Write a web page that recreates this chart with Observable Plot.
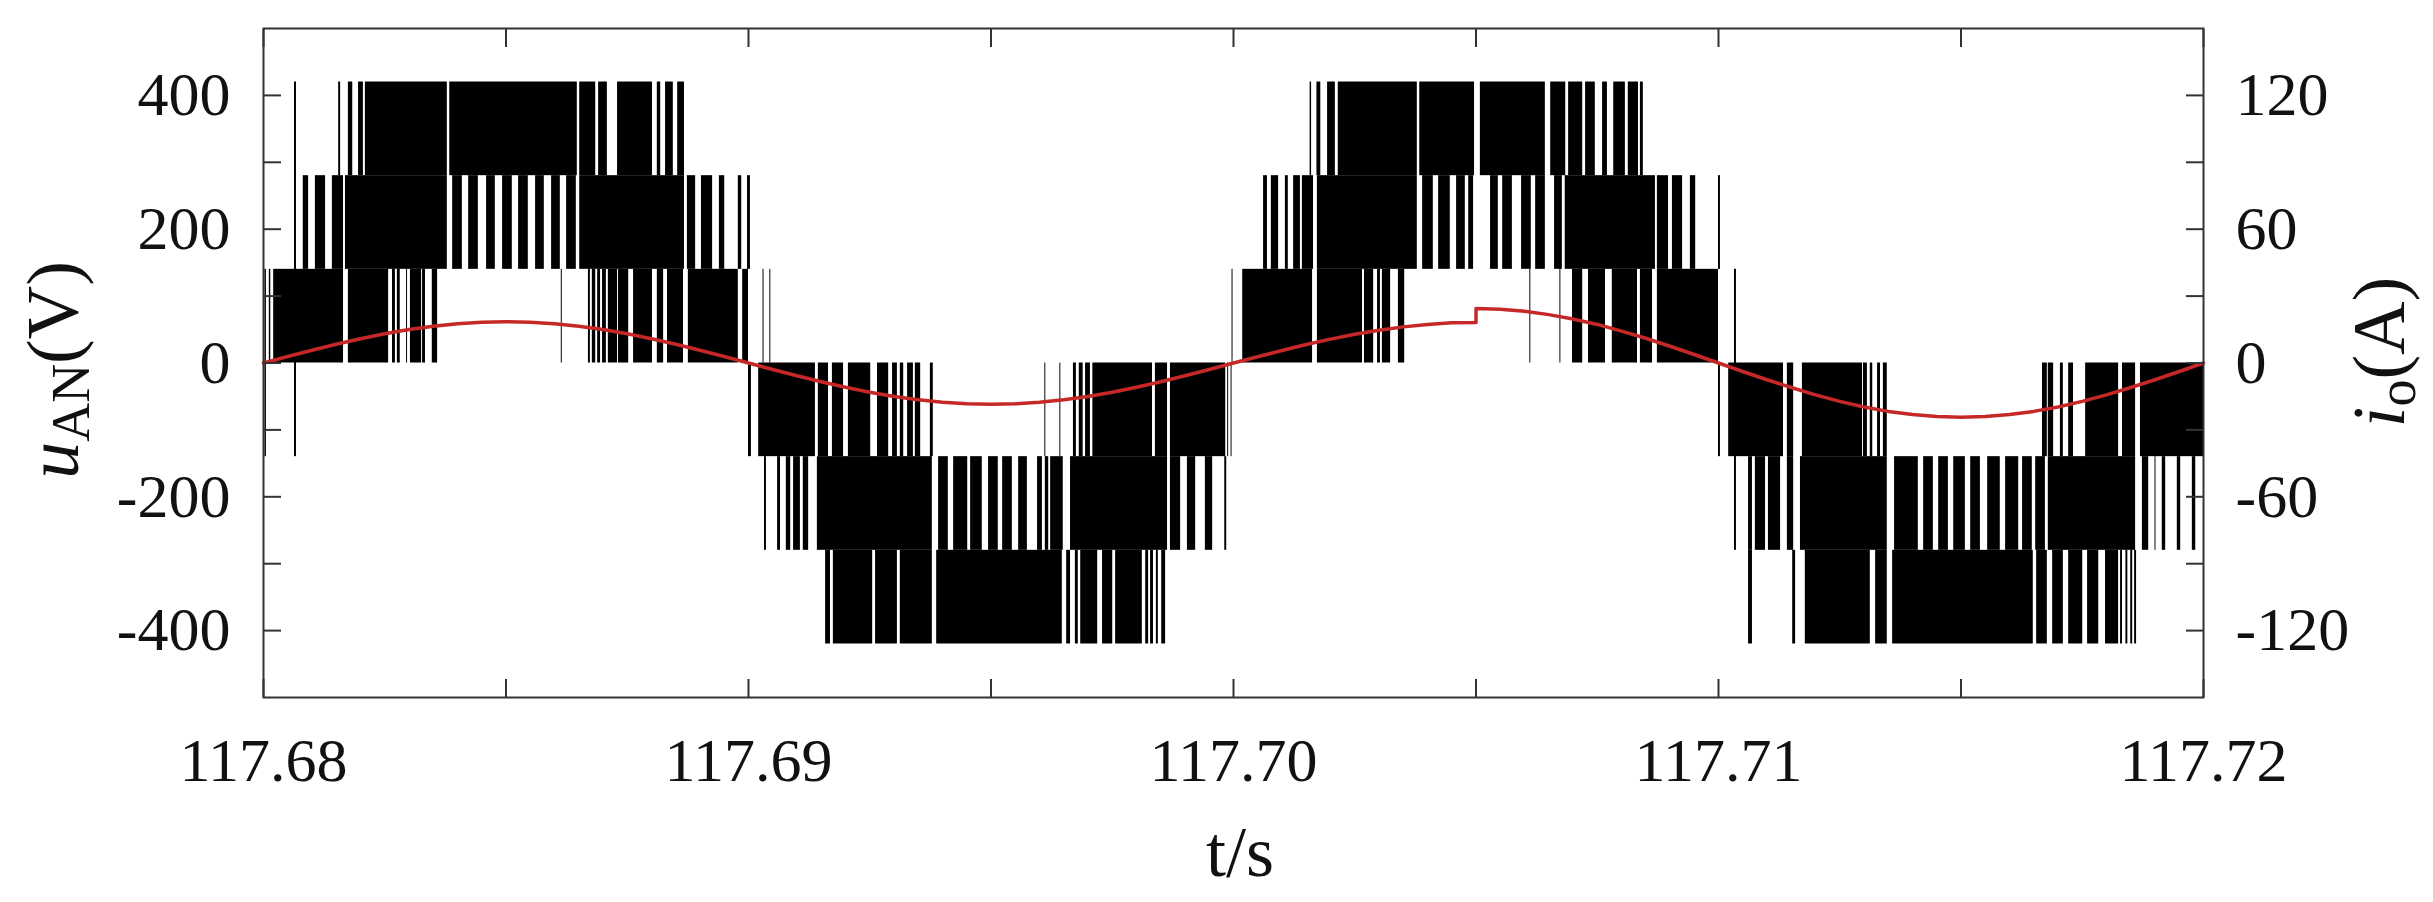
<!DOCTYPE html>
<html><head><meta charset="utf-8">
<script src="https://cdn.jsdelivr.net/npm/d3@7"></script>
<script src="https://cdn.jsdelivr.net/npm/@observablehq/plot@0.6"></script>
<style>body{margin:0;background:#fff;} svg{display:block}</style>
</head><body><div id="chart"></div>
<script>
// ---- data (times in ms after T0, voltages in V, currents in A) ----
const T0 = 117.68;
const levels = [-420, -280, -140, 0, 140, 280, 420];
const xTicksLabeled = [117.68, 117.69, 117.70, 117.71, 117.72];
const xTicksAll = [117.68, 117.685, 117.69, 117.695, 117.70, 117.705, 117.71, 117.715, 117.72];
const yTicksLabeled = [-400, -200, 0, 200, 400];
const yTicksAll = [-400, -300, -200, -100, 0, 100, 200, 300, 400];
const iTicks = [-120, -60, 0, 60, 120];

// black switching intervals of u_AN, per level band [start ms, end ms]
const band280to420 = [[1.55,1.59],[1.75,1.84],[1.96,2.06],[2.10,3.79],[3.84,6.47],[6.52,6.85],[6.91,7.09],[7.30,8.02],[8.12,8.19],[8.29,8.45],[8.54,8.68],
  [21.58,21.61],[21.72,21.80],[21.94,22.10],[22.16,23.79],[23.84,24.97],[25.09,26.43],[26.54,26.85],[26.91,27.20],[27.26,27.46],[27.61,27.71],[27.84,28.08],[28.14,28.35],[28.39,28.45]];
const band140to280 = [[0.82,0.93],[1.07,1.28],[1.42,1.65],[1.69,3.79],[3.90,4.10],[4.23,4.43],[4.60,4.78],[4.93,5.13],[5.26,5.46],[5.61,5.79],[5.94,6.12],[6.25,6.45],[6.52,8.68],[8.74,8.91],[9.03,9.26],[9.40,9.51],[9.79,9.86],[9.98,10.04],
  [20.62,20.70],[20.78,20.93],[21.07,21.13],[21.24,21.38],[21.42,21.65],[21.73,23.79],[23.90,24.12],[24.23,24.47],[24.60,24.78],[24.85,24.95],[25.30,25.46],[25.55,25.75],[25.94,26.14],[26.23,26.43],[26.62,26.78],[26.84,28.70],[28.74,28.97],[29.05,29.26],[29.42,29.53],[30.00,30.04]];
const band0to140 = [[0.03,0.06],[0.12,0.15],[0.21,1.65],[1.75,2.58],[2.66,2.72],[2.76,2.82],[2.95,2.97],[3.03,3.26],[3.28,3.34],[3.48,3.59],[6.14,6.16],[6.70,6.74],[6.78,6.85],[6.89,6.95],[6.99,7.07],[7.11,7.30],[7.32,7.53],[7.63,8.02],[8.12,8.25],[8.33,8.66],[8.76,9.79],[9.88,10.00],[10.30,10.32],[10.44,10.46],
  [19.97,19.99],[20.19,21.63],[21.73,22.66],[22.70,22.89],[22.97,23.03],[23.07,23.24],[23.40,23.53],[26.11,26.13],[26.73,26.75],[26.99,27.20],[27.32,27.67],[27.81,28.33],[28.39,28.64],[28.74,30.00]];
const bandM140to0 = [[0.03,0.06],[10.00,10.06],[10.21,11.38],[11.44,11.65],[11.73,11.96],[12.06,12.52],[12.66,12.89],[12.97,13.07],[13.13,13.20],[13.28,13.40],[13.44,13.55],[13.75,13.81],[16.11,16.13],[16.42,16.44],[16.70,16.76],[16.82,16.90],[16.95,17.05],[17.10,18.33],[18.39,18.64],[18.70,19.84],[19.88,19.90],[19.95,19.97],
  [30.00,30.04],[30.21,31.34],[31.42,31.55],[31.73,32.97],[32.99,33.07],[33.13,33.18],[33.28,33.34],[33.40,33.48],[36.68,36.78],[36.80,36.91],[37.05,37.11],[37.22,37.32],[37.57,38.25],[38.33,38.60],[38.70,40.00]];
const bandM280toM140 = [[10.33,10.37],[10.60,10.66],[10.78,10.87],[10.93,11.07],[11.13,11.24],[11.42,13.79],[13.92,14.12],[14.23,14.52],[14.58,14.82],[14.95,15.15],[15.24,15.44],[15.57,15.75],[15.96,16.06],[16.12,16.19],[16.23,16.49],[16.64,18.64],[18.70,18.91],[19.05,19.22],[19.42,19.57],[19.82,19.86],
  [30.62,30.70],[30.76,30.97],[31.03,31.28],[31.42,31.55],[31.69,33.48],[33.63,34.12],[34.23,34.43],[34.54,34.74],[34.85,35.09],[35.20,35.40],[35.55,35.81],[35.92,36.19],[36.27,36.47],[36.54,36.74],[36.80,38.60],[38.74,38.87],[39.00,39.02],[39.15,39.22],[39.46,39.53],[39.77,39.84]];
const bandM420toM280 = [[11.59,11.69],[11.75,12.56],[12.62,13.07],[13.13,13.79],[13.88,16.47],[16.56,16.64],[16.74,16.80],[16.85,17.20],[17.30,17.51],[17.57,18.12],[18.19,18.25],[18.29,18.35],[18.41,18.45],[18.52,18.60],
  [30.62,30.70],[31.53,31.59],[31.79,33.13],[33.24,33.48],[33.59,36.49],[36.56,36.78],[36.89,37.11],[37.22,37.51],[37.61,37.84],[37.98,38.25],[38.29,38.33],[38.40,38.44],[38.50,38.54],[38.58,38.62]];
// isolated spikes crossing several levels [start ms, end ms, low V, high V]
const spikes = [[0.64,0.68,-140,420],[30.33,30.37,-280,140]];

// load current i_o (A)
const iT = [0,0.5,1,1.5,2,2.5,3,3.5,4,4.5,5,5.5,6,6.5,7,7.5,8,8.5,9,9.5,10,
  10.5,11,11.5,12,12.5,13,13.5,14,14.5,15,15.5,16,16.5,17,17.5,18,18.5,19,19.5,20,
  20.5,21,21.5,22,22.5,23,23.5,24,24.5,25,
  25,25.5,26,26.5,27,27.5,28,28.5,29,29.5,30,
  30.5,31,31.5,32,32.5,33,33.5,34,34.5,35,35.5,36,36.5,37,37.5,38,38.5,39,39.5,40];
const iA = [0,2.9,5.7,8.4,10.9,13.1,15.0,16.5,17.6,18.3,18.5,18.3,17.6,16.5,15.0,13.1,10.9,8.4,5.7,2.9,0,
  -2.9,-5.7,-8.4,-10.9,-13.1,-15.0,-16.5,-17.6,-18.3,-18.5,-18.3,-17.6,-16.5,-15.0,-13.1,-10.9,-8.4,-5.7,-2.9,0,
  2.8,5.6,8.3,10.7,12.9,14.7,16.2,17.3,18.0,18.2,
  24.4,24.1,23.2,21.7,19.7,17.3,14.3,11.1,7.5,3.8,0,
  -3.8,-7.5,-11.0,-14.3,-17.2,-19.7,-21.7,-23.1,-24.0,-24.3,-24.0,-23.1,-21.7,-19.7,-17.2,-14.3,-11.0,-7.5,-3.8,0];

// ---- build tables ----
const bands = [
  {lo: levels[5], hi: levels[6], seg: band280to420},
  {lo: levels[4], hi: levels[5], seg: band140to280},
  {lo: levels[3], hi: levels[4], seg: band0to140},
  {lo: levels[2], hi: levels[3], seg: bandM140to0},
  {lo: levels[1], hi: levels[2], seg: bandM280toM140},
  {lo: levels[0], hi: levels[1], seg: bandM420toM280}
];
const rows = [];
for (const b of bands) for (const [a, c] of b.seg) rows.push({t1: T0 + a / 1000, t2: T0 + c / 1000, lo: b.lo, hi: b.hi});
for (const [a, c, lo, hi] of spikes) rows.push({t1: T0 + a / 1000, t2: T0 + c / 1000, lo, hi});
const k = 400 / 120; // right axis: 120 A aligned with 400 V
const cur = iT.map((t, j) => ({t: T0 + t / 1000, v: iA[j] * k}));

const font = "'Liberation Serif','Times New Roman',serif";
const tickStyle = {tickSize: -18, tickFormat: () => "", stroke: "#333", strokeWidth: 2, label: null};

const plot = Plot.plot({
  width: 2433, height: 902,
  marginLeft: 263, marginRight: 230, marginTop: 28, marginBottom: 205,
  x: {domain: [117.68, 117.72], label: null},
  y: {domain: [-500, 500], label: null},
  style: {fontFamily: font, fontSize: "62px", color: "#111", background: "#fff"},
  marks: [
    Plot.rect(rows, {x1: "t1", x2: "t2", y1: "lo", y2: "hi", fill: "#000"}),
    Plot.line(cur, {x: "t", y: "v", stroke: "#c62828", strokeWidth: 3.5}),
    Plot.frame({stroke: "#333", strokeWidth: 2}),
    Plot.axisX(xTicksAll, {anchor: "bottom", ...tickStyle}),
    Plot.axisX(xTicksAll, {anchor: "top", ...tickStyle}),
    Plot.axisY(yTicksAll, {anchor: "left", ...tickStyle}),
    Plot.axisY(yTicksAll, {anchor: "right", ...tickStyle}),
    Plot.axisX(xTicksLabeled, {anchor: "bottom", tickSize: 0, tickPadding: 39, tickFormat: d3.format(".2f"), label: null}),
    Plot.axisY(yTicksLabeled, {anchor: "left", tickSize: 0, tickPadding: 33, tickFormat: d => String(d), label: null}),
    Plot.axisY(iTicks.map(i => i * k), {anchor: "right", tickSize: 0, tickPadding: 32, tickFormat: v => String(Math.round(v / k)), label: null})
  ]
});
document.getElementById("chart").append(plot);

// axis titles with italic symbols and subscripts
const svg = d3.select(plot);
const yl = svg.append("text").attr("transform", "translate(78,370) rotate(-90)")
  .attr("text-anchor", "middle").attr("fill", "#111")
  .style("font-family", font).style("font-size", "74px");
yl.append("tspan").style("font-style", "italic").text("u");
yl.append("tspan").attr("dy", 11).style("font-size", "54px").text("AN");
yl.append("tspan").attr("dy", -11).text("(V)");
const yr = svg.append("text").attr("transform", "translate(2404,352) rotate(-90)")
  .attr("text-anchor", "middle").attr("fill", "#111")
  .style("font-family", font).style("font-size", "74px");
yr.append("tspan").style("font-style", "italic").text("i");
yr.append("tspan").attr("dy", 11).style("font-size", "54px").text("o");
yr.append("tspan").attr("dy", -11).text("(A)");
svg.append("text").attr("x", 1240).attr("y", 876).attr("text-anchor", "middle").attr("fill", "#111")
  .style("font-family", font).style("font-size", "72px").text("t/s");
</script>
</body></html>
